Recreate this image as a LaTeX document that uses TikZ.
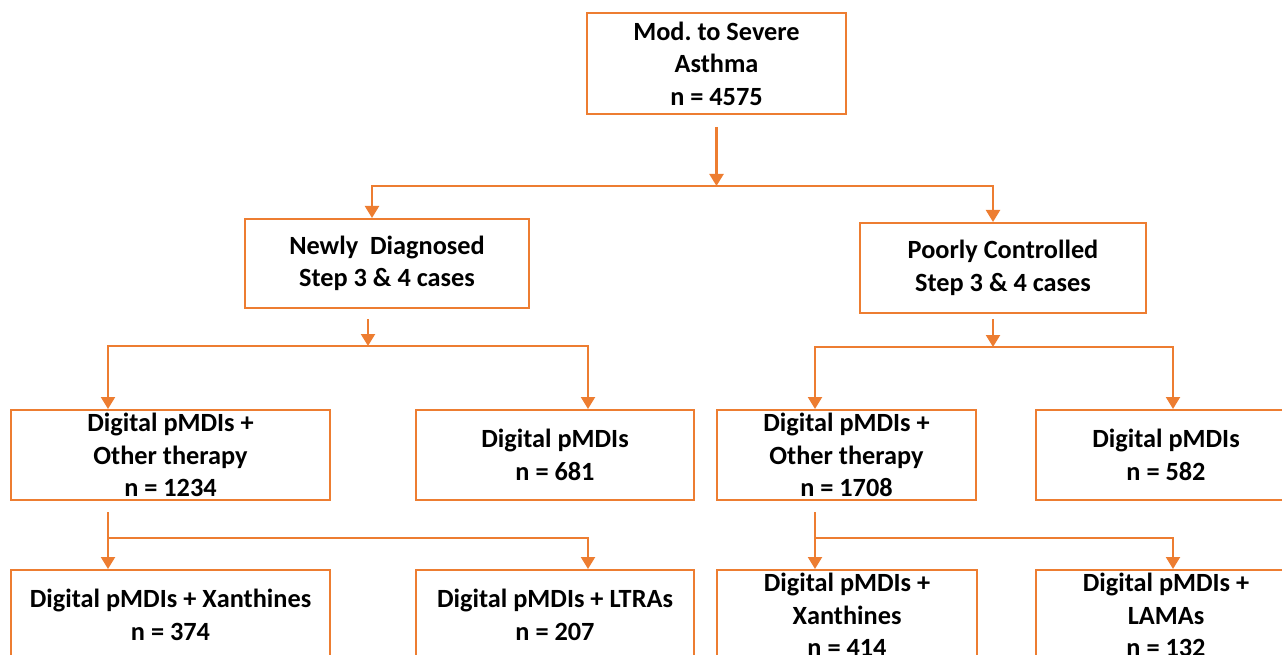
\documentclass[tikz,border=0pt]{standalone}
\usepackage{fontspec}
\setmainfont{Carlito}
\usetikzlibrary{arrows.meta}
\definecolor{org}{HTML}{ED7D31}
\frenchspacing
\begin{document}
\begin{tikzpicture}[x=1pt,y=-1pt,
  box/.style={draw=org, line width=2pt, align=center, inner sep=0pt,
    font=\fontsize{26.3}{32.5}\selectfont\bfseries\frenchspacing, text=black},
  arr/.style={draw=org, line width=2.2pt, -{Triangle[width=14pt,length=12pt]}},
  ln/.style={draw=org, line width=2pt}]
\clip (0,0) rectangle (1282,655);
% nodes
\node[box, minimum width=259, minimum height=101] (top) at (716.5,63.5) {Mod. to Severe\\Asthma\\n = 4575};
\node[box, minimum width=284, minimum height=89] (newly) at (387,263.5) {Newly\ \ Diagnosed\\Step 3 \& 4 cases};
\node[box, minimum width=286, minimum height=90] (poorly) at (1003,268) {Poorly Controlled\\Step 3 \& 4 cases};
\node[box, minimum width=319, minimum height=90] (A) at (170.5,455) {Digital pMDIs +\\Other therapy\\n = 1234};
\node[box, minimum width=278, minimum height=90] (B) at (555,455) {Digital pMDIs\\n = 681};
\node[box, minimum width=259, minimum height=90] (C) at (846.5,455) {Digital pMDIs +\\Other therapy\\n = 1708};
\node[box, minimum width=260, minimum height=90] (D) at (1166,455) {Digital pMDIs\\n = 582};
\node[box, minimum width=319, minimum height=90] (E) at (170.5,615) {Digital pMDIs + Xanthines\\n = 374};
\node[box, minimum width=278, minimum height=90] (F) at (555,615) {Digital pMDIs + LTRAs\\n = 207};
\node[box, minimum width=260, minimum height=90] (G) at (847,615) {Digital pMDIs +\\Xanthines\\n = 414};
\node[box, minimum width=260, minimum height=90] (H) at (1166,615) {Digital pMDIs +\\LAMAs\\n = 132};
% junctions
\coordinate (j0) at (716.5,186);
\coordinate (j1) at (368,346);
\coordinate (j2) at (993,347);
\coordinate (j3) at (108,538);
\coordinate (j4) at (815,538);
% connectors
\draw[arr] ([yshift=-12pt]top.south) -- (j0);
\draw[arr] (j0) -| ([xshift=-15pt]newly.north);
\draw[arr] (j0) -| ([xshift=-10pt]poorly.north);
\draw[arr] ([xshift=-19pt,yshift=-10pt]newly.south) -- (j1);
\draw[arr] (j1) -| ([xshift=-62.5pt]A.north);
\draw[arr] (j1) -| ([xshift=33pt]B.north);
\draw[arr] ([xshift=-10pt,yshift=-5pt]poorly.south) -- (j2);
\draw[arr] (j2) -| ([xshift=-31.5pt]C.north);
\draw[arr] (j2) -| ([xshift=7pt]D.north);
\draw[arr] ([xshift=-62.5pt,yshift=-11pt]A.south) -- ([xshift=-62.5pt]E.north);
\draw[arr] (j3) -| ([xshift=33pt]F.north);
\draw[arr] ([xshift=-31.5pt,yshift=-11pt]C.south) -- ([xshift=-32pt]G.north);
\draw[arr] (j4) -| ([xshift=7pt]H.north);
\end{tikzpicture}
\end{document}
